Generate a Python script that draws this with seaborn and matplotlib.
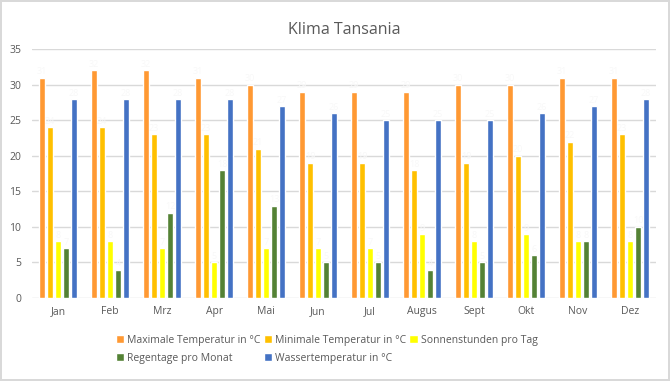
import pandas as pd
import seaborn as sns
import matplotlib.pyplot as plt

months = ['Jan', 'Feb', 'Mrz', 'Apr', 'Mai', 'Jun', 'Jul', 'Augus', 'Sept', 'Okt', 'Nov', 'Dez']
max_temp = [31, 32, 32, 31, 30, 29, 29, 29, 30, 30, 31, 31]
min_temp = [24, 24, 23, 23, 21, 19, 19, 18, 19, 20, 22, 23]
sun_hours = [8, 8, 7, 5, 7, 7, 7, 9, 8, 9, 8, 8]
rain_days = [7, 4, 12, 18, 13, 5, 5, 4, 5, 6, 8, 10]
water_temp = [28, 28, 28, 28, 27, 26, 25, 25, 25, 26, 27, 28]

series_names = ['Maximale Temperatur in °C', 'Minimale Temperatur in °C', 'Sonnenstunden pro Tag',
                'Regentage pro Monat', 'Wassertemperatur in °C']
colors = ['#FF9933', '#FFC000', '#FFFF00', '#548235', '#4472C4']

# long format for seaborn
rows = []
for name, vals in zip(series_names, [max_temp, min_temp, sun_hours, rain_days, water_temp]):
    for m, v in zip(months, vals):
        rows.append({'Monat': m, 'Serie': name, 'Wert': v})
df = pd.DataFrame(rows)

sns.set_style('white')
plt.rcParams['font.family'] = ['Open Sans', 'DejaVu Sans']

fig = plt.figure(figsize=(6.7, 3.81), dpi=100)
fig.patch.set_edgecolor('#d9d9d9')
fig.patch.set_linewidth(1.5)
ax = fig.add_axes([0.048, 0.218, 0.931, 0.653])

sns.barplot(data=df, x='Monat', y='Wert', hue='Serie', order=months, hue_order=series_names,
            palette=colors, width=0.77, gap=0.25, saturation=1, ax=ax, legend=True)

# data labels are almost white in the original
for c in ax.containers:
    ax.bar_label(c, fontsize=6.5, color='#f8f8f8', padding=1)

ax.set_ylim(0, 35)
ax.set_yticks(range(0, 36, 5))
ax.set_xlim(-0.5, 11.5)
ax.grid(axis='y', color='#d9d9d9', linewidth=1)
ax.set_axisbelow(True)
for s in ax.spines.values():
    s.set_visible(False)
ax.set_xlabel('')
ax.set_ylabel('')
ax.tick_params(axis='both', length=0, labelsize=7.5, labelcolor='#595959')
ax.tick_params(axis='y', pad=8)
ax.tick_params(axis='x', pad=6)
ax.set_title('Klima Tansania', fontsize=11.5, color='#595959', pad=11)

handles, labels = ax.get_legend_handles_labels()
ax.get_legend().remove()
order = [0, 3, 1, 4, 2]
fig.legend([handles[i] for i in order], [labels[i] for i in order], ncol=3,
           loc='upper left', bbox_to_anchor=(0.165, 0.135), frameon=False,
           fontsize=7.5, labelcolor='#595959', handlelength=0.8, handleheight=0.8,
           handletextpad=0.3, columnspacing=0.3, labelspacing=0.7, borderpad=0)

plt.savefig('out.png', dpi=100)
